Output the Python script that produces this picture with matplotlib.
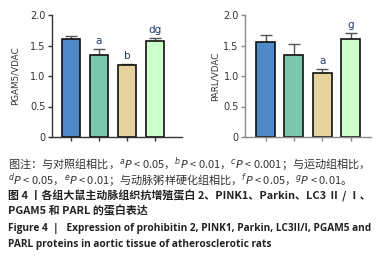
import matplotlib
matplotlib.use("Agg")
import matplotlib.pyplot as plt

plt.rcParams['font.family'] = ['Noto Sans CJK SC', 'DejaVu Sans']
plt.rcParams['mathtext.fontset'] = 'dejavusans'

groups = ["Control", "Exercise", "AS", "AS+Exercise"]
pgam5_vals = [1.60, 1.35, 1.18, 1.58]
pgam5_err = [0.05, 0.09, 0.015, 0.04]
pgam5_marks = ["", "a", "b", "dg"]
parl_vals = [1.56, 1.35, 1.05, 1.61]
parl_err = [0.11, 0.18, 0.07, 0.09]
parl_marks = ["", "", "a", "g"]
yticks = [0, 0.5, 1.0, 1.5, 2.0]
ytick_labels = ["0", "0.5", "1.0", "1.5", "2.0"]
colors = ["#5088C8", "#7CC6AE", "#E6D29C", "#CCFFCC"]

W, H = 385, 266
fig = plt.figure(figsize=(W / 100, H / 100), dpi=100)


def panel(rect, vals, errs, marks, ylabel, spine_color, xlim, ylabel_x):
    ax = fig.add_axes(rect)
    x = list(range(len(vals)))
    ax.bar(x, vals, width=0.67, color=colors, edgecolor="#111111", linewidth=1.2, zorder=2)
    ax.errorbar(x, vals, yerr=[[0] * len(errs), errs], fmt="none", ecolor="#555555",
                elinewidth=1.0, capsize=4, capthick=1.0, zorder=1)
    for xi, v, e, m in zip(x, vals, errs, marks):
        if m:
            ax.text(xi, v + e + 0.05, m, ha="center", va="bottom", fontsize=7.5,
                    color="#1F3A6E", family=["DejaVu Sans"])
    ax.set_xlim(*xlim)
    ax.set_ylim(0, 2.0)
    ax.set_yticks(yticks)
    ax.set_yticklabels(ytick_labels, fontsize=7, color="#333333", family=["DejaVu Sans"])
    ax.set_xticks(x)
    ax.set_xticklabels([])
    for s in ["top", "right"]:
        ax.spines[s].set_visible(False)
    for s in ["left", "bottom"]:
        ax.spines[s].set_color(spine_color)
        ax.spines[s].set_linewidth(1.0)
    ax.tick_params(axis="both", colors=spine_color, length=3, width=1.0, pad=1.5,
                   labelcolor="#333333")
    fig.text(ylabel_x, rect[1] + rect[3] / 2, ylabel, rotation=90, ha="center", va="center",
             fontsize=6.3, color="#333333", family=["DejaVu Sans"])
    return ax


y0 = (H - 137) / H
hgt = (137 - 15) / H
panel([51.7 / W, y0, (182 - 51.7) / W, hgt], pgam5_vals, pgam5_err, pgam5_marks,
      "PGAM5/VDAC", "#333333", (-0.69, 3.96), 15 / W)
panel([245 / W, y0, (371 - 245) / W, hgt], parl_vals, parl_err, parl_marks,
      "PARL/VDAC", "#8A8A8A", (-0.73, 3.72), 215 / W)

cap1 = r"图注：与对照组相比，$^{a}P$ < 0.05，$^{b}P$ < 0.01，$^{c}P$ < 0.001；与运动组相比，"
cap2 = r"$^{d}P$ < 0.05，$^{e}P$ < 0.01；与动脉粥样硬化组相比，$^{f}P$ < 0.05，$^{g}P$ < 0.01。"
fig.text(8 / W, 1 - 164 / H, cap1, fontsize=8, color="#333333", va="center", ha="left")
fig.text(8 / W, 1 - 180 / H, cap2, fontsize=8, color="#333333", va="center", ha="left")
fig.text(8 / W, 1 - 196 / H, "图 4 丨各组大鼠主动脉组织抗增殖蛋白 2、PINK1、Parkin、LC3 Ⅱ / Ⅰ、",
         fontsize=7.9, color="#222222", va="center", ha="left", fontweight="bold")
fig.text(8 / W, 1 - 211 / H, "PGAM5 和 PARL 的蛋白表达",
         fontsize=7.9, color="#222222", va="center", ha="left", fontweight="bold")
fig.text(8 / W, 1 - 229 / H,
         "Figure 4  |   Expression of prohibitin 2, PINK1, Parkin, LC3II/I, PGAM5 and",
         fontsize=7.3, color="#222222", va="center", ha="left", fontweight="bold",
         family=["Open Sans", "DejaVu Sans"])
fig.text(8 / W, 1 - 244 / H,
         "PARL proteins in aortic tissue of atherosclerotic rats",
         fontsize=7.3, color="#222222", va="center", ha="left", fontweight="bold",
         family=["Open Sans", "DejaVu Sans"])

fig.savefig("out.png", dpi=100)
